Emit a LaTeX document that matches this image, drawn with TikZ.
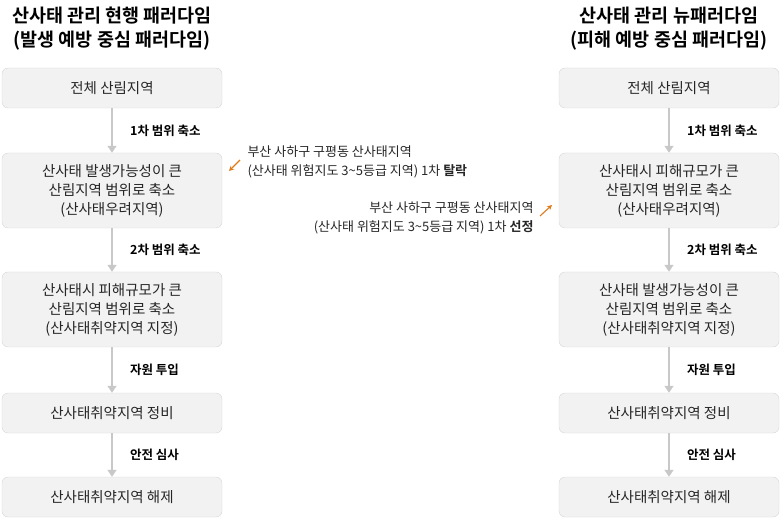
\documentclass[tikz,border=0pt]{standalone}
\usepackage{fontspec}
\setmainfont{Noto Sans CJK KR}
\newfontfamily\bfk{Noto Sans CJK KR Bold}
\usetikzlibrary{arrows.meta}
\definecolor{boxfill}{HTML}{F2F2F2}
\definecolor{boxline}{HTML}{D6D6D6}
\definecolor{arr}{HTML}{C8C8C8}
\definecolor{orng}{HTML}{E07B1A}
\begin{document}
\begin{tikzpicture}[x=1pt,y=-1pt,
  stepbox/.style={draw=boxline,fill=boxfill,rounded corners=6pt,minimum width=220pt,align=center,font=\fontsize{14.5}{19}\selectfont,text=black!85,inner sep=0pt},
  flow/.style={draw=arr,line width=1.6pt,-{Triangle[length=7pt,width=9pt]}},
  lab/.style={font=\bfk\fontsize{12.5}{15}\selectfont,anchor=west},
  ttl/.style={font=\bfk\fontsize{18.5}{24}\selectfont,align=center},
  note/.style={font=\fontsize{13}{19}\selectfont,text=black!85},
  oa/.style={draw=orng,line width=1.1pt,-{Stealth[length=5pt,width=5pt]}}]
\useasboundingbox (0,0) rectangle (782,521);
\node[ttl] (t1) at (112,29) {산사태 관리 현행 패러다임\\(발생 예방 중심 패러다임)};
\node[ttl] (t2) at (669,29) {산사태 관리 뉴패러다임\\(피해 예방 중심 패러다임)};
% left
\node[stepbox,minimum height=40pt] (a1) at (112,88) {전체 산림지역};
\node[stepbox,minimum height=75pt] (a2) at (112,190.5) {산사태 발생가능성이 큰\\산림지역 범위로 축소\\(산사태우려지역)};
\node[stepbox,minimum height=75pt] (a3) at (112,309.5) {산사태시 피해규모가 큰\\산림지역 범위로 축소\\(산사태취약지역 지정)};
\node[stepbox,minimum height=40pt] (a4) at (112,413) {산사태취약지역 정비};
\node[stepbox,minimum height=40pt] (a5) at (112,497) {산사태취약지역 해제};
\draw[flow] (a1) -- (a2) node[midway,lab,xshift=14pt] {1차 범위 축소};
\draw[flow] (a2) -- (a3) node[midway,lab,xshift=14pt] {2차 범위 축소};
\draw[flow] (a3) -- (a4) node[midway,lab,xshift=14pt] {자원 투입};
\draw[flow] (a4) -- (a5) node[midway,lab,xshift=14pt] {안전 심사};
% right
\node[stepbox,minimum height=40pt] (b1) at (669,88) {전체 산림지역};
\node[stepbox,minimum height=75pt] (b2) at (669,190.5) {산사태시 피해규모가 큰\\산림지역 범위로 축소\\(산사태우려지역)};
\node[stepbox,minimum height=75pt] (b3) at (669,309.5) {산사태 발생가능성이 큰\\산림지역 범위로 축소\\(산사태취약지역 지정)};
\node[stepbox,minimum height=40pt] (b4) at (669,413) {산사태취약지역 정비};
\node[stepbox,minimum height=40pt] (b5) at (669,497) {산사태취약지역 해제};
\draw[flow] (b1) -- (b2) node[midway,lab,xshift=14pt] {1차 범위 축소};
\draw[flow] (b2) -- (b3) node[midway,lab,xshift=14pt] {2차 범위 축소};
\draw[flow] (b3) -- (b4) node[midway,lab,xshift=14pt] {자원 투입};
\draw[flow] (b4) -- (b5) node[midway,lab,xshift=14pt] {안전 심사};
% notes
\node[note,anchor=west,align=left] (n1) at (244,162) {부산 사하구 구평동 산사태지역\\(산사태 위험지도 3\textasciitilde5등급 지역) 1차 {\bfk 탈락}};
\node[note,anchor=east,align=right] (n2) at (537,218) {부산 사하구 구평동 산사태지역\\(산사태 위험지도 3\textasciitilde5등급 지역) 1차 {\bfk 선정}};
\coordinate (o1s) at (240,160); \coordinate (o1e) at (229,171);
\coordinate (o2s) at (540,216); \coordinate (o2e) at (552,205);
\draw[oa] (o1s) -- (o1e);
\draw[oa] (o2s) -- (o2e);
\end{tikzpicture}
\end{document}
